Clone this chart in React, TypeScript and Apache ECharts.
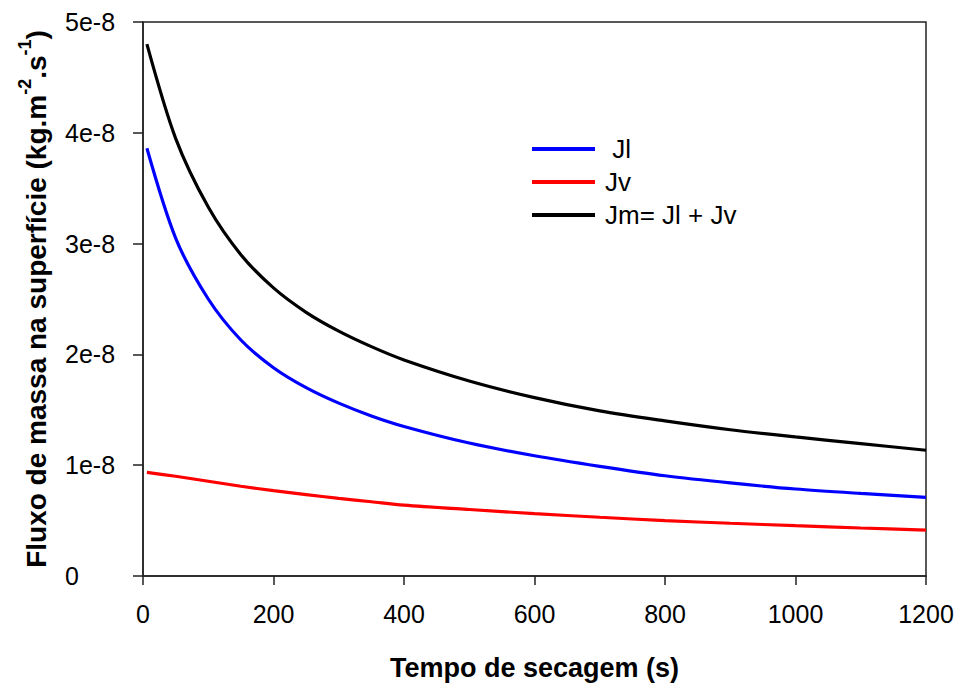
import React, { useEffect, useRef } from "react";
import * as echarts from "echarts";

// Drying time (s)
const time = [6, 50, 100, 150, 200, 250, 300, 350, 400, 500, 600, 700, 800, 900, 1000, 1100, 1200];
// Jl – liquid flux at surface (kg.m-2.s-1)
const jl = [3.86e-8, 3.05e-8, 2.5e-8, 2.13e-8, 1.88e-8, 1.7e-8, 1.56e-8, 1.445e-8, 1.35e-8, 1.2e-8, 1.085e-8, 0.99e-8, 0.905e-8, 0.84e-8, 0.785e-8, 0.745e-8, 0.71e-8];
// Jv – vapour flux at surface
const jv = [0.935e-8, 0.9e-8, 0.855e-8, 0.81e-8, 0.77e-8, 0.735e-8, 0.7e-8, 0.67e-8, 0.64e-8, 0.6e-8, 0.563e-8, 0.53e-8, 0.5e-8, 0.476e-8, 0.454e-8, 0.433e-8, 0.414e-8];
// Jm = Jl + Jv
const jm = [4.8e-8, 3.95e-8, 3.33e-8, 2.9e-8, 2.6e-8, 2.38e-8, 2.21e-8, 2.07e-8, 1.95e-8, 1.76e-8, 1.61e-8, 1.49e-8, 1.4e-8, 1.32e-8, 1.255e-8, 1.195e-8, 1.135e-8];

const seriesNames = [" Jl", "Jv", "Jm= Jl + Jv"];
const seriesColors = ["#0000ff", "#ff0000", "#000000"];
const xTitle = "Tempo de secagem (s)";

const FONT = "'Liberation Sans', Arial, sans-serif";

export default function App() {
  const ref = useRef<HTMLDivElement>(null);
  useEffect(() => {
    document.body.style.margin = "0";
    if (!ref.current) return;
    const chart = echarts.init(ref.current, null, { renderer: "svg" });
    const build = (vals: number[]) => time.map((t, i) => [t, vals[i]]);
    const all = [jl, jv, jm];
    chart.setOption({
      animation: false,
      backgroundColor: "#ffffff",
      textStyle: { fontFamily: FONT },
      grid: {
        left: 143,
        right: 37,
        top: 22,
        bottom: 110,
        show: true,
        borderColor: "#222",
        borderWidth: 1.5,
        containLabel: false,
      },
      legend: {
        orient: "vertical",
        left: 527,
        top: 131,
        itemWidth: 63,
        itemHeight: 4,
        itemGap: 7,
        icon: "rect",
        data: seriesNames,
        textStyle: { fontFamily: FONT, fontSize: 26, color: "#000", padding: [0, 0, 0, 5] },
      },
      xAxis: {
        type: "value",
        min: 0,
        max: 1200,
        interval: 200,
        name: xTitle,
        nameLocation: "middle",
        nameGap: 78,
        nameTextStyle: { fontFamily: FONT, fontSize: 27, fontWeight: "bold", color: "#000" },
        axisLine: { show: true, lineStyle: { color: "#222", width: 1.5 } },
        axisTick: { show: true, inside: false, length: 9, lineStyle: { color: "#222", width: 1.5 } },
        axisLabel: {
          fontFamily: FONT,
          fontSize: 25,
          color: "#000",
          margin: 25,
          formatter: (v: number) => String(v),
        },
        splitLine: { show: false },
      },
      yAxis: {
        type: "value",
        min: 0,
        max: 5e-8,
        interval: 1e-8,
        name: "{a|Fluxo de massa na superfície (kg.m}{s|-2}{a|.s}{s|-1}{a|)}",
        nameLocation: "middle",
        nameRotate: 90,
        nameGap: 93,
        nameTextStyle: {
          fontFamily: FONT,
          fontSize: 28,
          fontWeight: "bold",
          color: "#000",
          rich: {
            a: { fontFamily: FONT, fontSize: 28, fontWeight: "bold", color: "#000", lineHeight: 34, verticalAlign: "bottom" },
            s: { fontFamily: FONT, fontSize: 18, fontWeight: "bold", color: "#000", lineHeight: 34, verticalAlign: "top" },
          },
        },
        axisLine: { show: true, lineStyle: { color: "#222", width: 1.5 } },
        axisTick: { show: true, inside: false, length: 10, lineStyle: { color: "#222", width: 1.5 } },
        axisLabel: {
          fontFamily: FONT,
          fontSize: 25,
          color: "#000",
          align: "left",
          margin: 78,
          formatter: (v: number) => (v === 0 ? "0" : `${Math.round(v / 1e-8)}e-8`),
        },
        splitLine: { show: false },
      },
      series: all.map((vals, i) => ({
        name: seriesNames[i],
        type: "line",
        data: build(vals),
        smooth: 0.3,
        showSymbol: false,
        symbol: "none",
        color: seriesColors[i],
        lineStyle: { color: seriesColors[i], width: 3.2 },
      })),
    });
    return () => chart.dispose();
  }, []);
  return <div ref={ref} style={{ width: 963, height: 686 }} />;
}
